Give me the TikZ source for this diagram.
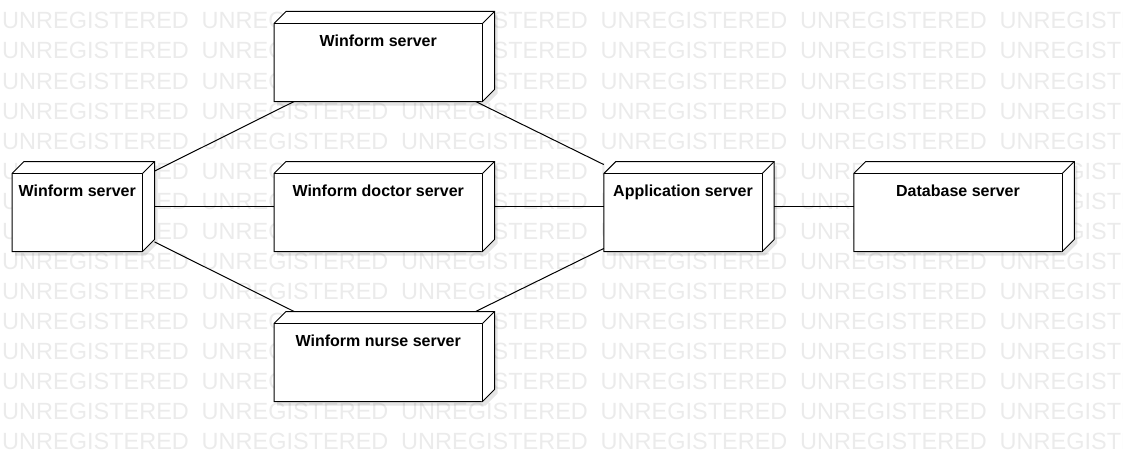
\documentclass[tikz,border=0pt]{standalone}
\usepackage{fontspec}
\setmainfont{Liberation Sans}
\usepackage{tikz}
\usetikzlibrary{backgrounds}

\begin{document}
\begin{tikzpicture}[x=1pt, y=-1pt, line width=1pt]
    \tikzstyle{node_style} = [inner sep=0pt, minimum height=89pt, text height=34pt, text depth=55pt, font=\fontsize{16}{19}\selectfont\bfseries, execute at begin node=\hspace*{-12pt}]
    \tikzstyle{box_style} = [draw=black, fill=white, line width=1pt, line join=miter]
    \tikzstyle{shadow_style} = [fill=black, opacity=0.1]
    \tikzstyle{edge_style} = [draw=black, line width=1pt]
    \tikzstyle{wm_style} = [anchor=base west, inner sep=0pt, text=black!8, font=\fontsize{23.5}{26}\selectfont]
    \useasboundingbox (0,0) rectangle (1123,452);

    \node[node_style, minimum width=219.5pt] (wtop) at (384.25,56.5) {Winform server};
    \node[node_style, minimum width=141.5pt] (wleft) at (83.25,206.5) {Winform server};
    \node[node_style, minimum width=219.5pt] (doc) at (384.25,206.5) {Winform doctor server};
    \node[node_style, minimum width=219.5pt] (nurse) at (384.25,356.5) {Winform nurse server};
    \node[node_style, minimum width=169.4pt] (app) at (689,206.5) {Application server};
    \node[node_style, minimum width=219.5pt] (db) at (964,206.5) {Database server};

    % watermark
    \begin{scope}[on background layer]
    \clip (0,0) rectangle (1123,452);
    \foreach \r in {0,...,14}
        \foreach \c in {0,...,5}
            \node[wm_style] (wm-\r-\c) at (2+199.5*\c, 29+30*\r) {UNREGISTERED};
    \end{scope}

    % boxes
    \begin{scope}[on background layer]
    \foreach \n in {wtop,wleft,doc,nurse,app,db} {
        \fill[shadow_style] ([shift={(3,16)}]\n.north west) -- ([shift={(15,4)}]\n.north west) -- ([shift={(3,4)}]\n.north east) -- ([shift={(3,-8)}]\n.south east) -- ([shift={(-9,4)}]\n.south east) -- ([shift={(3,4)}]\n.south west) -- cycle;
        \draw[box_style] ([shift={(0,12)}]\n.north west) -- ([shift={(12,0)}]\n.north west) -- (\n.north east) -- ([shift={(0,-12)}]\n.south east) -- ([shift={(-12,0)}]\n.south east) -- (\n.south west) -- cycle;
        \draw[box_style] ([shift={(0,12)}]\n.north west) -- ([shift={(-12,12)}]\n.north east) -- ([shift={(-12,0)}]\n.south east);
        \draw[box_style] ([shift={(-12,12)}]\n.north east) -- (\n.north east);
    }
    \end{scope}

    \draw[edge_style]  (wleft) edge (wtop);
    \draw[edge_style]  (wleft) edge (doc);
    \draw[edge_style]  (wleft) edge (nurse);
    \draw[edge_style]  (wtop) edge (app);
    \draw[edge_style]  (doc) edge (app);
    \draw[edge_style]  (nurse) edge (app);
    \draw[edge_style]  (app) edge (db);
\end{tikzpicture}
\end{document}
